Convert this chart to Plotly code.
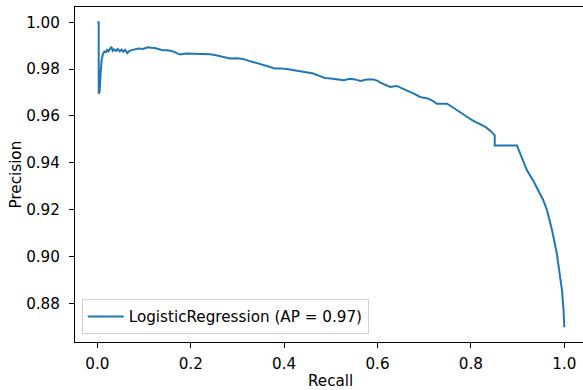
import plotly.graph_objects as go

recall = [0.0, 0.003, 0.003, 0.005, 0.007, 0.009, 0.012, 0.015, 0.018, 0.021, 0.024, 0.027,
          0.030, 0.033, 0.036, 0.040, 0.044, 0.048, 0.052, 0.056, 0.060, 0.064, 0.068, 0.073,
          0.080, 0.088, 0.098, 0.108, 0.116, 0.123, 0.132, 0.141, 0.150, 0.159, 0.168, 0.177,
          0.190, 0.202, 0.215, 0.230, 0.241, 0.252, 0.263, 0.274, 0.284, 0.298, 0.3125, 0.323,
          0.334, 0.348, 0.363, 0.372, 0.380, 0.393, 0.4056, 0.420, 0.434, 0.448, 0.4626, 0.475,
          0.4877, 0.500, 0.513, 0.527, 0.541, 0.552, 0.563, 0.577, 0.591, 0.600, 0.606, 0.616,
          0.627, 0.641, 0.655, 0.670, 0.680, 0.691, 0.700, 0.709, 0.718, 0.727, 0.738, 0.749,
          0.760, 0.770, 0.785, 0.798, 0.8035, 0.817, 0.831, 0.842, 0.851, 0.851, 0.8985, 0.909,
          0.920, 0.933, 0.945, 0.955, 0.963, 0.974, 0.984, 0.990, 0.995, 0.998, 1.0]
precision = [1.0, 1.0, 0.9695, 0.9705, 0.978, 0.9835, 0.9865, 0.9875, 0.9872, 0.9882, 0.9876, 0.9885,
             0.9895, 0.9878, 0.9884, 0.9878, 0.9886, 0.9876, 0.9883, 0.9874, 0.9882, 0.9868, 0.9876, 0.9881,
             0.9884, 0.9888, 0.9886, 0.9893, 0.9891, 0.9890, 0.9885, 0.9880, 0.9880, 0.9877, 0.9870, 0.9862,
             0.9866, 0.9866, 0.9864, 0.9865, 0.9863, 0.9860, 0.9855, 0.9850, 0.9845, 0.9846, 0.9843, 0.9836,
             0.9830, 0.9823, 0.9816, 0.9808, 0.9802, 0.9803, 0.9800, 0.9795, 0.9788, 0.9784, 0.9781, 0.9771,
             0.9762, 0.9760, 0.9755, 0.9752, 0.9759, 0.9756, 0.9749, 0.9755, 0.9756, 0.9750, 0.9742, 0.9733,
             0.9724, 0.9728, 0.9716, 0.9702, 0.9693, 0.9681, 0.9678, 0.9674, 0.9664, 0.9652, 0.9652, 0.9652,
             0.9638, 0.9624, 0.9604, 0.9588, 0.9581, 0.9568, 0.9553, 0.9536, 0.9517, 0.9474, 0.9474, 0.9422,
             0.9368, 0.9325, 0.9282, 0.9240, 0.9197, 0.9110, 0.9012, 0.8935, 0.8855, 0.8780, 0.8698]

label = "LogisticRegression (AP = 0.97)"
x_title = "Recall"
y_title = "Precision"
x_ticks = [0.0, 0.2, 0.4, 0.6, 0.8, 1.0]
y_ticks = [0.88, 0.90, 0.92, 0.94, 0.96, 0.98, 1.00]

FONT = "DejaVu Sans"
FS = 15.2
L, R, T, B, W, H = 75, 0, 7, 48, 583, 390
PW, PH = W - L - R, H - T - B

fig = go.Figure()
fig.add_trace(go.Scatter(x=recall, y=precision, mode="lines", name=label,
                         line=dict(color="#1f77b4", width=2)))

fig.update_layout(
    width=W, height=H,
    margin=dict(l=L, r=R, t=T, b=B, autoexpand=False),
    paper_bgcolor="white", plot_bgcolor="white",
    font=dict(family=FONT, size=FS, color="black"),
    showlegend=True,
    legend=dict(x=(81.7 - L) / PW, y=(T + PH - 334) / PH, xanchor="left", yanchor="bottom",
                bordercolor="#d0d0d0", borderwidth=1, bgcolor="rgba(255,255,255,0.8)",
                itemwidth=36, font=dict(family=FONT, size=FS, color="black")),
    annotations=[
        dict(text=x_title, xref="paper", yref="paper", x=(330 - L) / PW, y=(T + PH - 381) / PH,
             xanchor="center", yanchor="middle", showarrow=False,
             font=dict(family=FONT, size=FS, color="black")),
        dict(text=y_title, xref="paper", yref="paper", x=(15 - L) / PW, y=0.5,
             xanchor="center", yanchor="middle", showarrow=False, textangle=-90,
             font=dict(family=FONT, size=FS, color="black")),
    ],
)
fig.update_xaxes(
    range=[-0.0478, -0.0478 + PW / 467.0], tickvals=x_ticks, ticktext=[f"{v:.1f}" for v in x_ticks],
    showgrid=False, zeroline=False, showline=True, linecolor="black", linewidth=1,
    mirror=True, ticks="outside", ticklen=5, tickcolor="black", tickwidth=1,
    ticklabelstandoff=3, automargin=False,
)
fig.update_yaxes(
    range=[0.8635, 1.0065], tickvals=y_ticks, ticktext=[f"{v:.2f}" for v in y_ticks],
    showgrid=False, zeroline=False, showline=True, linecolor="black", linewidth=1,
    mirror=False, ticks="outside", ticklen=5, tickcolor="black", tickwidth=1,
    ticklabelstandoff=6, automargin=False,
)
fig.write_html("out.html", config={"displayModeBar": False},
               post_script="document.body.style.margin='0';document.body.style.overflow='hidden';")
